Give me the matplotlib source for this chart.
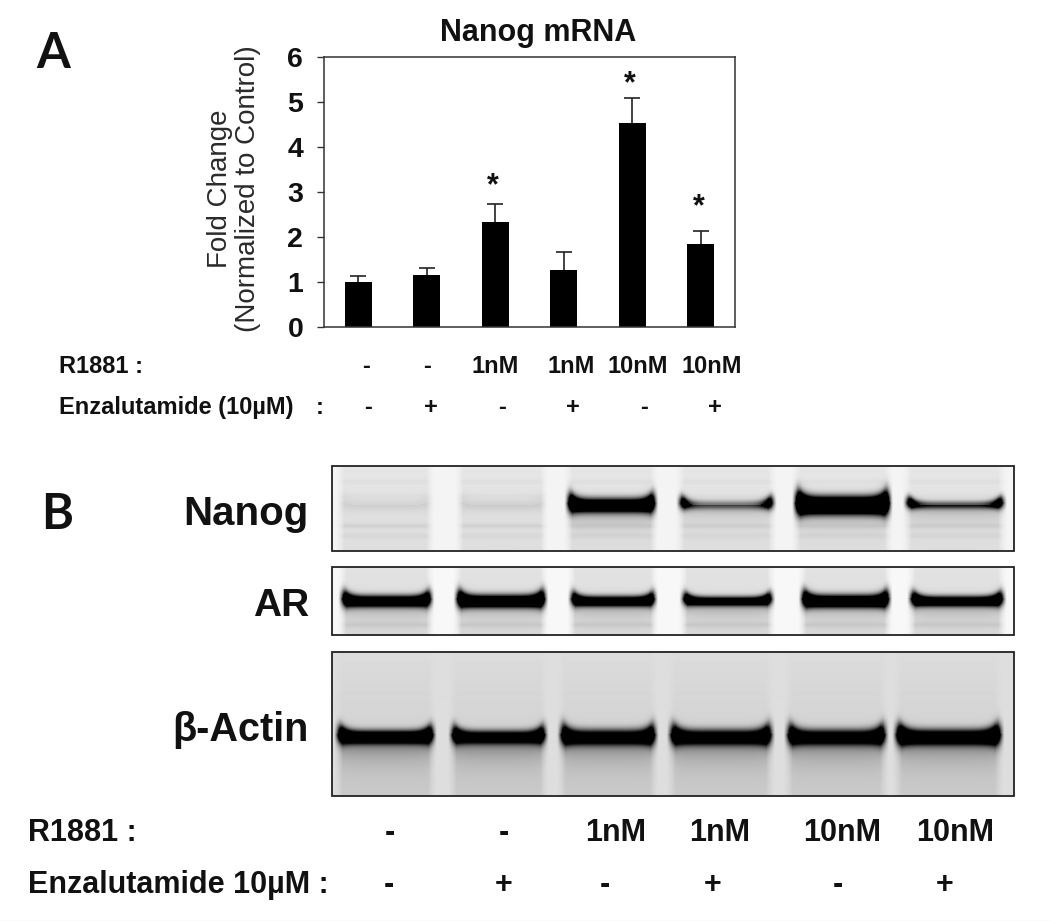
import numpy as np
import matplotlib
matplotlib.use("Agg")
import matplotlib.pyplot as plt

W, H = 1050, 921

# ---- Panel A data ----
groups = ["1", "2", "3", "4", "5", "6"]
fold_change = [1.0, 1.15, 2.34, 1.26, 4.53, 1.85]
fold_err = [0.14, 0.15, 0.40, 0.40, 0.55, 0.28]
star_height = [None, None, 3.13, None, 5.4, 2.66]
y_ticks = [0, 1, 2, 3, 4, 5, 6]
r1881_a = ["-", "-", "1nM", "1nM", "10nM", "10nM"]
enza_a = ["-", "+", "-", "+", "-", "+"]

# ---- Panel B data (band darkness by lane) ----
r1881_b = ["-", "-", "1nM", "1nM", "10nM", "10nM"]
enza_b = ["-", "+", "-", "+", "-", "+"]
blot_names = ["Nanog", "AR", "β-Actin"]
nanog_lanes = [(342, 429), (461, 543), (570, 653), (682, 771), (798, 887), (909, 1001)]
ar_lanes = [(344, 429), (459, 543), (573, 653), (685, 770), (804, 887), (913, 1001)]
actin_lanes = [(340, 431), (454, 543), (563, 653), (673, 769), (790, 883), (899, 998)]
nanog_center = [0.05, 0.06, 1.5, 0.42, 2.0, 0.55]
nanog_edge = [0.05, 0.06, 2.2, 1.9, 2.8, 2.0]
nanog_thick = [6, 6, 6.5, 4.5, 8, 4]
ar_center = [1.4, 1.5, 1.3, 1.2, 1.5, 1.3]
ar_edge = [2.0, 2.2, 1.8, 1.8, 2.1, 2.0]
ar_thick = [5.5, 6, 5, 4.5, 6, 5]
actin_center = [1.4, 1.15, 1.15, 1.15, 1.15, 1.3]
actin_edge = [2.0, 1.8, 1.8, 1.8, 1.8, 2.2]
actin_thick = [6, 6, 7, 7, 7, 7]


def blot(x0, x1, y0, y1, lanes, center, edge, thick, band_y, tail, tail_amp,
         gap, lane_bg, low_bg, faint):
    xs = np.arange(x0, x1) + 0.5
    ys = np.arange(y0, y1) + 0.5
    X, Y = np.meshgrid(xs, ys)
    dark = np.full(X.shape, gap, dtype=float)
    v0 = (Y - y0) / (y1 - y0)
    for (a, b), c, e, t in zip(lanes, center, edge, thick):
        u = (X - (a + b) / 2) / ((b - a) / 2)
        mask = np.clip((1.14 - np.abs(u)) / 0.2, 0, 1) ** 1.5
        edge_w = np.clip(np.abs(u), 0, 1) ** 7
        yc = band_y - 3 * edge_w
        strength = c + (e - c) * edge_w
        tk = t * (1 + 0.5 * edge_w)
        dy = Y - yc
        core = strength * np.exp(-(dy / tk) ** 2)
        below = tail_amp * min(c, 1.0) * np.exp(-np.clip(dy, 0, None) / tail) * (dy > 0)
        v = v0 * low_bg + (1 - v0) * lane_bg
        for fy, fa in faint:
            v = v + fa * np.exp(-((Y - (y0 + fy)) / 2.6) ** 2)
        dark = dark * (1 - mask) + mask * (v + below * (1 - v) + core)
    return np.clip(1 - dark, 0, 1)


fig = plt.figure(figsize=(W / 100, H / 100), dpi=100, facecolor="white")
bg = fig.add_axes([0, 0, 1, 1])
bg.set_xlim(0, W)
bg.set_ylim(H, 0)
bg.axis("off")

SANS = "Liberation Sans"
CAL = "Lato"
ink = "#111111"

# ---- bar chart ----
L, R, T, B = 324, 735, 57, 327
ax = fig.add_axes([L / W, 1 - B / H, (R - L) / W, (B - T) / H])
xpos = np.arange(len(groups))
tops = np.array(fold_change) + np.array(fold_err)
ax.bar(xpos, fold_change, width=0.39, color="black", zorder=2)
ax.vlines(xpos, fold_change, tops, color="#222222", lw=1.2, zorder=1)
ax.plot(xpos, tops, ls="none", marker="_", ms=12, mew=1.2, color="#222222", zorder=1)
ax.set_xlim(-0.5, 5.5)
ax.set_ylim(0, 6)
ax.set_yticks(y_ticks)
ax.set_yticklabels(y_ticks, fontfamily=SANS, fontweight="bold", fontsize=20.5, color=ink)
ax.set_xticks([])
ax.tick_params(axis="y", length=5, width=1, color="#333333", pad=10)
for lab in ax.get_yticklabels():
    lab.set_y(lab.get_position()[1])
for s in ax.spines.values():
    s.set_color("#333333")
    s.set_linewidth(1.1)
for i, h in enumerate(star_height):
    if h is not None:
        ax.text(i - 0.03, h, "*", ha="center", va="center",
                fontfamily=SANS, fontweight="bold", fontsize=22, color=ink)

bg.text(538, 33, "Nanog mRNA", ha="center", va="center", fontfamily=SANS, fontweight="bold",
        fontsize=22, color=ink)
bg.text(234, 189, "Fold Change\n(Normalized to Control)", rotation=90, ha="center", va="center",
        fontfamily=SANS, fontsize=20, color="#2a2a2a", linespacing=1.08, multialignment="center")

bg.text(53, 54, "A", ha="center", va="center", fontfamily=CAL, fontweight="bold", fontsize=35, color=ink)
bg.text(57, 514, "B", ha="center", va="center", fontfamily=CAL, fontweight="bold", fontsize=35, color=ink)

# panel A condition rows
FA = 17
bg.text(59, 366, "R1881 :", ha="left", va="center", fontfamily=SANS, fontweight="bold", fontsize=FA, color=ink)
bg.text(59, 407, "Enzalutamide (10µM)", ha="left", va="center", fontfamily=SANS, fontweight="bold", fontsize=FA, color=ink)
bg.text(320, 407, ":", ha="center", va="center", fontfamily=SANS, fontweight="bold", fontsize=FA, color=ink)
cols_a = [366, 427, 495, 571, 638, 712]
cols_a2 = [368, 431, 502, 573, 644, 715]
for x, s in zip(cols_a, r1881_a):
    bg.text(x, 366, s, ha="center", va="center", fontfamily=SANS, fontweight="bold", fontsize=FA, color=ink)
for x, s in zip(cols_a2, enza_a):
    bg.text(x, 407, s, ha="center", va="center", fontfamily=SANS, fontweight="bold", fontsize=FA, color=ink)

# ---- blots ----
panels = [
    (466, 551, nanog_lanes, nanog_center, nanog_edge, nanog_thick, 505, 10, 0.6, 0.045, 0.10, 0.13,
     [(16, 0.02), (30, 0.015), (60, 0.05), (70, 0.03)]),
    (567, 635, ar_lanes, ar_center, ar_edge, ar_thick, 601, 9, 0.45, 0.03, 0.11, 0.15, [(58, 0.05)]),
    (652, 796, actin_lanes, actin_center, actin_edge, actin_thick, 737, 15, 0.7, 0.13, 0.14, 0.20, []),
]
for (y0, y1, lanes, c, e, t, by, tail, amp, gap, lb, lowb, faint) in panels:
    img = blot(332, 1014, y0, y1, lanes, c, e, t, by, tail, amp, gap, lb, lowb, faint)
    bg.imshow(img, extent=(332, 1014, y1, y0), cmap="gray", vmin=0, vmax=1, aspect="auto",
              interpolation="bilinear", zorder=1)
    bg.add_patch(plt.Rectangle((332, y0), 682, y1 - y0, fill=False, ec="#222222", lw=1.3, zorder=2))
bg.set_xlim(0, W)
bg.set_ylim(H, 0)

for name, y, fs in zip(blot_names, [514, 606, 730], [29, 28, 28.5]):
    bg.text(309, y, name, ha="right", va="center", fontfamily=SANS,
            fontweight="bold", fontsize=fs, color=ink)

# panel B condition rows
FB = 22
bg.text(28, 833, "R1881 :", ha="left", va="center", fontfamily=SANS, fontweight="bold", fontsize=FB, color=ink)
bg.text(28, 885, "Enzalutamide 10µM :", ha="left", va="center", fontfamily=SANS, fontweight="bold", fontsize=FB, color=ink)
cols_b = [390, 504, 616, 720, 842, 955]
cols_b2 = [389, 504, 605, 713, 838, 945]
for x, s in zip(cols_b, r1881_b):
    bg.text(x, 833, s, ha="center", va="center", fontfamily=SANS, fontweight="bold", fontsize=FB, color=ink)
for x, s in zip(cols_b2, enza_b):
    bg.text(x, 885, s, ha="center", va="center", fontfamily=SANS, fontweight="bold", fontsize=FB, color=ink)

bg.axhline(920.5, color="#eeeeee", lw=1)

fig.savefig("out.png", dpi=100)
